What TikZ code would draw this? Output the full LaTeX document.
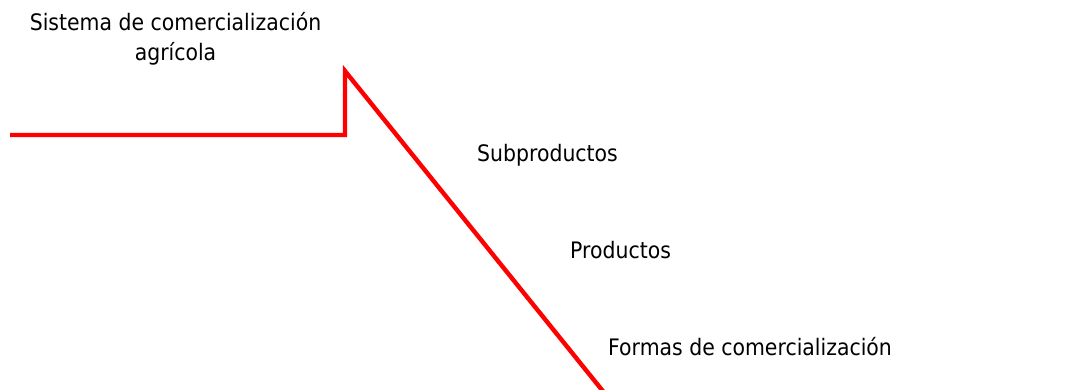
\documentclass[tikz,border=0pt]{standalone}
\usepackage{fontspec}
\setmainfont{DejaVu Sans}[FakeStretch=0.9]
\begin{document}
\begin{tikzpicture}[x=1pt,y=-1pt,
  lbl/.style={inner sep=0pt, font=\fontsize{22.7}{30}\selectfont, text=black},
  redline/.style={draw={rgb,255:red,255;green,0;blue,0}, line width=4.4pt, line join=miter}]
\useasboundingbox (0,0) rectangle (1074,389);
\node[lbl, align=center, anchor=base] (title) at (175.5,60) {Sistema de comercialización\\agrícola};
\node[lbl, anchor=base west] (sub) at (477,161.5) {Subproductos};
\node[lbl, anchor=base west] (prod) at (570,258) {Productos};
\node[lbl, anchor=base west] (formas) at (608,355.5) {Formas de comercialización};
\coordinate (a) at (10,135);
\coordinate (b) at (345,135);
\coordinate (c) at (345,71);
\coordinate (d) at (606,395);
\draw[redline] (a) -- (b) -- (c) -- (d);
\end{tikzpicture}
\end{document}
